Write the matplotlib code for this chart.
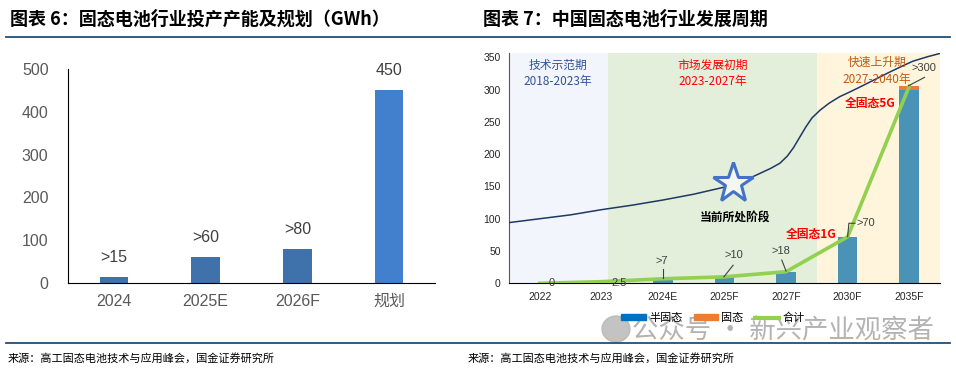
#!/usr/bin/env python3
"""Two-panel solid-state battery chart: capacity plan and development cycle."""
import matplotlib
matplotlib.use("Agg")
import matplotlib.pyplot as plt
from matplotlib.lines import Line2D
from matplotlib.patches import Patch, Ellipse

plt.rcParams["font.family"] = ["Liberation Sans", "Noto Sans CJK SC", "DejaVu Sans"]

# left panel data (GWh)
cap_years = ["2024", "2025E", "2026F", "规划"]
cap_values = [15, 60, 80, 450]
cap_labels = [">15", ">60", ">80", "450"]

# right panel data (GWh)
cyc_years = ["2022", "2023", "2024E", "2025F", "2027F", "2030F", "2035F"]
semi_solid = [0, 2.5, 7, 10, 18, 72, 300]
all_solid = [0, 0, 0, 0, 0, 0, 5]
total = [0, 2.5, 7, 10, 18, 72, 305]

# industry S-curve (x in category units, y in axis units)
curve_x = [-0.5, 0.0, 0.5, 1.0, 1.5, 2.0, 2.5, 3.0, 3.3, 3.57, 3.75, 3.9, 4.02,
           4.12, 4.22, 4.32, 4.42, 4.55, 4.7, 4.87, 5.05, 5.2, 5.45, 5.68, 5.9, 6.06, 6.3, 6.5]
curve_y = [94, 100, 106, 114, 121, 129, 138, 149, 158, 170, 178, 186, 197,
           210, 226, 242, 256, 268, 279, 289, 297, 304, 316, 327, 337, 344, 351, 356]

periods = [(-0.5, 1.1, "#F2F5FB"), (1.1, 4.5, "#E3EFDA"), (4.5, 6.5, "#FFF5DD")]

fig = plt.figure(figsize=(9.56, 3.69), dpi=100)

# headers, rules and source lines
title_kw = dict(fontsize=13, fontweight="bold", family=["Noto Sans CJK SC", "DejaVu Sans"],
                color="black", va="center")
fig.text(10 / 956, 1 - 19 / 369, "图表 6：固态电池行业投产产能及规划（GWh）", **title_kw)
fig.text(483 / 956, 1 - 19 / 369, "图表 7：中国固态电池行业发展周期", **title_kw)
for y in (37.3, 342.7):
    fig.add_artist(Line2D([6 / 956, 950 / 956], [1 - y / 369] * 2, color="#1F4E79", lw=1.3))
src_kw = dict(fontsize=8, family=["Noto Sans CJK SC", "DejaVu Sans"], color="black", va="center")
fig.text(8 / 956, 1 - 358 / 369, "来源：高工固态电池技术与应用峰会，国金证券研究所", **src_kw)
fig.text(468 / 956, 1 - 358 / 369, "来源：高工固态电池技术与应用峰会，国金证券研究所", **src_kw)

# ---- left panel ----
ax1 = fig.add_axes([68 / 956, 1 - 283 / 369, 367 / 956, 214 / 369])
colors1 = ["#3F72AA", "#3F72AA", "#3F72AA", "#427FCC"]
xs1 = range(len(cap_years))
bars = ax1.bar(xs1, cap_values, width=0.31, color=colors1)
for rect, lab in zip(bars, cap_labels):
    ax1.annotate(lab, (rect.get_x() + rect.get_width() / 2, rect.get_height()),
                 xytext=(0, 14), textcoords="offset points", ha="center", va="center",
                 fontsize=11.5, color="#404040")
ax1.set_xlim(-0.5, 3.5)
ax1.set_ylim(0, 500)
ax1.set_yticks(range(0, 501, 100))
ax1.set_xticks(list(xs1), cap_years)
ax1.tick_params(length=0, labelsize=11.5, labelcolor="#595959", pad=8)
ax1.tick_params(axis="y", pad=14)
for side in ("top", "right"):
    ax1.spines[side].set_visible(False)
ax1.spines["left"].set_color("black")
ax1.spines["bottom"].set_color("black")

# ---- right panel ----
ax2 = fig.add_axes([509 / 956, 1 - 283.3 / 369, 431 / 956, 230.5 / 369])
for x0, x1, c in periods:
    ax2.axvspan(x0, x1, color=c, lw=0, zorder=0)
xs2 = range(len(cyc_years))
ax2.bar(xs2, semi_solid, width=0.32, color="#4A93B6", zorder=2)
ax2.bar(xs2, all_solid, width=0.32, bottom=semi_solid, color="#ED7D31", zorder=2)
ax2.plot(curve_x, curve_y, color="#1F3864", lw=1.1, zorder=3)
ax2.plot(list(xs2), total, color="#92D050", lw=2.6, zorder=4)
ax2.plot([3.14], [155], marker="*", markersize=30, markerfacecolor="#F3F7EE",
         markeredgecolor="#4472C4", markeredgewidth=2.2, zorder=5)

lab_kw = dict(fontsize=8, color="#404040", zorder=6)
ax2.text(0.19, 0, "0", ha="center", va="center", **lab_kw)
ax2.text(1.29, 0, "2.5", ha="center", va="center", **lab_kw)
ax2.text(1.98, 34, ">7", ha="center", va="center", **lab_kw)
ax2.plot([2.0, 2.0], [8, 22], color="#404040", lw=0.8, zorder=6)
ax2.text(3.15, 44, ">10", ha="center", va="center", **lab_kw)
ax2.plot([2.99, 3.14], [10, 28], color="#404040", lw=0.8, zorder=6)
ax2.text(3.92, 50, ">18", ha="center", va="center", **lab_kw)
ax2.plot([4.0, 3.93], [19, 36], color="#404040", lw=0.8, zorder=6)
ax2.text(5.14, 93, ">70", ha="left", va="center", **lab_kw)
ax2.plot([5.0, 5.02, 5.12], [72, 93, 93], color="#404040", lw=0.8, zorder=6)
ax2.text(6.04, 333, ">300", ha="left", va="center", **lab_kw)
ax2.plot([5.99, 6.25], [306, 319], color="#404040", lw=0.8, zorder=6)

cjk = ["Noto Sans CJK SC", "DejaVu Sans"]
ax2.text(0.30, 338, "技术示范期", ha="center", va="center", fontsize=8.5, color="#2F5597", family=cjk)
ax2.text(0.30, 313, "2018-2023年", ha="center", va="center", fontsize=8.5, color="#2F5597", family=cjk)
ax2.text(2.81, 338, "市场发展初期", ha="center", va="center", fontsize=8.5, color="#FF0000", family=cjk)
ax2.text(2.81, 313, "2023-2027年", ha="center", va="center", fontsize=8.5, color="#FF0000", family=cjk)
ax2.text(5.47, 342, "快速上升期", ha="center", va="center", fontsize=8.5, color="#C55A11", family=cjk)
ax2.text(5.47, 316, "2027-2040年", ha="center", va="center", fontsize=8.5, color="#C55A11", family=cjk)
ax2.text(5.36, 279, "全固态5G", ha="center", va="center", fontsize=8.5, color="#FF0000",
         fontweight="bold", family=cjk, zorder=6)
ax2.text(4.41, 76, "全固态1G", ha="center", va="center", fontsize=8.5, color="#FF0000",
         fontweight="bold", family=cjk, zorder=6)
ax2.text(3.17, 103, "当前所处阶段", ha="center", va="center", fontsize=8.5, color="black",
         fontweight="bold", family=cjk, zorder=6)

ax2.set_xlim(-0.5, 6.5)
ax2.set_ylim(0, 357)
ax2.set_yticks(range(0, 351, 50))
ax2.set_xticks(list(xs2), cyc_years)
ax2.tick_params(length=0, labelsize=7.5, labelcolor="#262626", pad=6)
for side in ("top", "right"):
    ax2.spines[side].set_visible(False)
ax2.spines["left"].set_color("#595959")
ax2.spines["bottom"].set_color("black")

handles = [Patch(color="#0070C0"), Patch(color="#ED7D31"), Line2D([], [], color="#92D050", lw=3)]
fig.legend(handles, ["半固态", "固态", "合计"], loc="center", bbox_to_anchor=(713 / 956, 1 - 318 / 369),
           ncols=3, frameon=False, prop={"family": cjk, "size": 8}, handlelength=2.2,
           handleheight=0.5, handletextpad=0.3, columnspacing=1.0)

# watermark
fig.text(632 / 956, 1 - 331 / 369, "公众号 · 新兴产业观察者", fontsize=19, color="#9A9A9A",
         alpha=0.75, family=cjk, va="center", ha="left")
fig.add_artist(Ellipse((616 / 956, 1 - 329 / 369), 28 / 956, 26 / 369,
                       transform=fig.transFigure, color="#B5B5B5", alpha=0.8))

fig.savefig("out.png", dpi=100)
